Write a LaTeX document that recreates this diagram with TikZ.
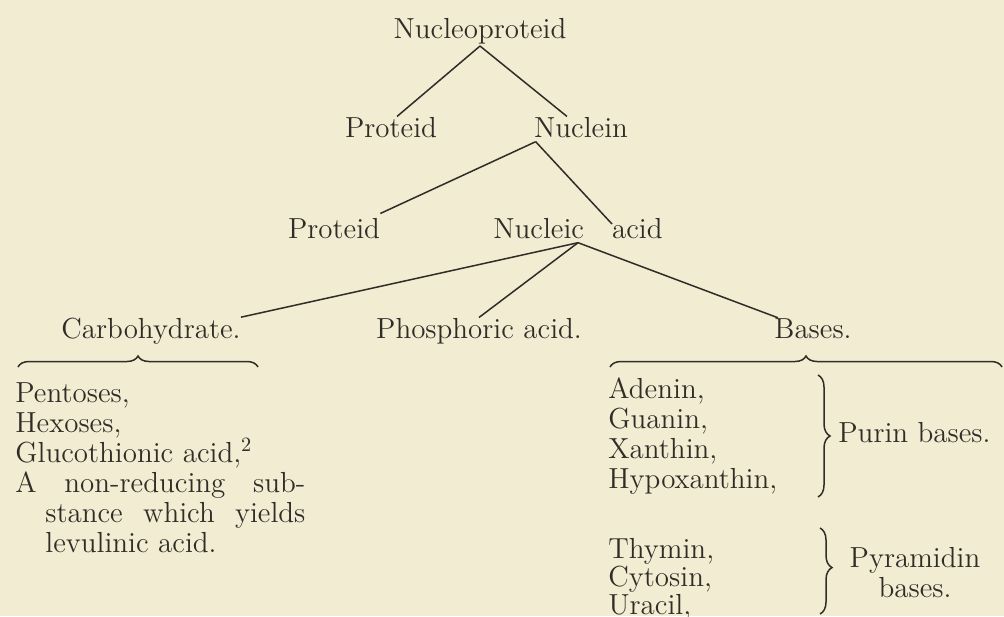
\documentclass[tikz,border=0pt]{standalone}
\usetikzlibrary{decorations.pathreplacing}
\definecolor{paper}{RGB}{242,236,211}
\definecolor{ink}{RGB}{48,44,38}

\begin{document}
\begin{tikzpicture}[x=0.5pt,y=-0.5pt,
    word/.style={inner sep=0pt, anchor=base, text=ink, font=\fontsize{14.5}{15}\selectfont},
    listing/.style={inner sep=0pt, anchor=north west, align=left, text=ink, font=\fontsize{14.5}{15}\selectfont},
    twig/.style={draw=ink, line width=0.75pt},
    curly/.style={draw=ink, line width=0.75pt, decorate, decoration={brace, amplitude=#1}}]
  % Page
  \fill[paper] (0,0) rectangle (1004,616);
  \useasboundingbox (0,0) rectangle (1004,616);

  % Tree
  \node[word] (nucleo) at (480,38) {Nucleoproteid};
  \node[word] (prot1) at (391,137) {Proteid};
  \node[word] (nuclein) at (581,137) {Nuclein};
  \node[word] (prot2) at (334,238) {Proteid};
  \node[word] (nacid) at (578,238) {Nucleic\hspace{14pt}acid};
  \node[word] (carb) at (151,338) {Carbohydrate.};
  \node[word] (phos) at (479,338) {Phosphoric acid.};
  \node[word] (bases) at (813,338) {Bases.};

  % Connectors
  \draw[twig] ([yshift=-1pt]nucleo.south) -- ([xshift=3pt]prot1.north);
  \draw[twig] ([yshift=-1pt]nucleo.south) -- ([xshift=-7pt]nuclein.north);
  \coordinate (nucleinfoot) at ([shift={(1pt,-2pt)}]nuclein.south west);
  \draw[twig] (nucleinfoot) -- ([yshift=2pt]prot2.north east);
  \draw[twig] (nucleinfoot) -- ([shift={(-25.5pt,7pt)}]nacid.base east);
  \coordinate (fork) at ([yshift=-2pt]nacid.south);
  \draw[twig] (fork) -- (carb.north east);
  \draw[twig] (fork) -- (phos.north);
  \draw[twig] (fork) -- ([xshift=2pt]bases.north west);

  % Braces
  \draw[curly=5.5pt] (18,367) -- (258,367);
  \draw[curly=5.5pt] (610,367) -- (1002,367);
  \draw[curly=6pt] (818,375) -- (818,497);
  \draw[curly=6pt, decoration={aspect=0.46}] (820,528) -- (820,614);

  % Lists
  \node[listing] (carbs) at (15,382) {Pentoses,\\Hexoses,\\Glucothionic acid,\textsuperscript{2}\\\makebox[145pt][s]{A non-reducing sub-}\\\hspace*{15pt}\makebox[130pt][s]{stance which yields}\\\hspace*{15pt}levulinic acid.};
  \node[listing] (purins) at (608,377) {Adenin,\\Guanin,\\Xanthin,\\Hypoxanthin,};
  \node[listing, font=\fontsize{14.5}{14}\selectfont] (pyrims) at (608,538) {Thymin,\\Cytosin,\\Uracil,};
  \node[word, anchor=base west] (purinlbl) at (838,442) {Purin bases.};
  \node[word, anchor=north, align=center] (pyrimlbl) at (915,547) {Pyramidin\\bases.};
\end{tikzpicture}
\end{document}
